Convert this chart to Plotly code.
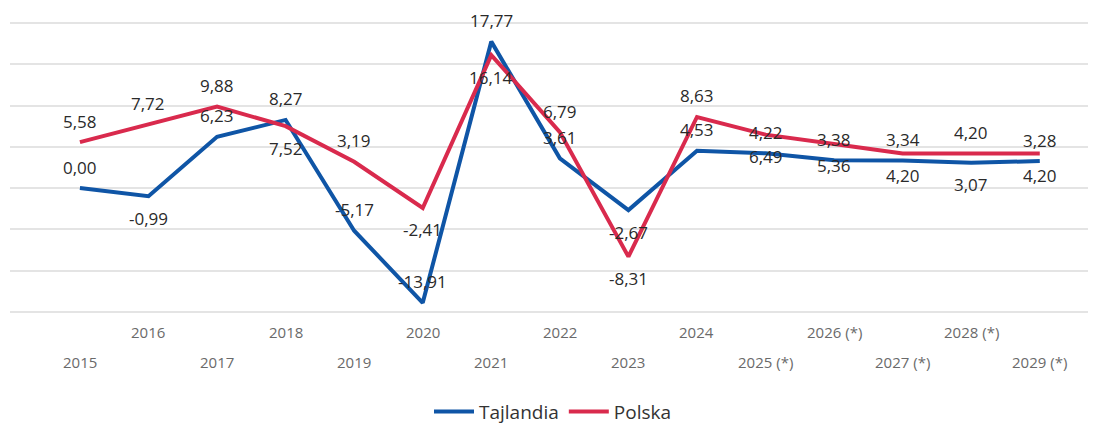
import plotly.graph_objects as go

years = ["2015", "2016", "2017", "2018", "2019", "2020", "2021", "2022",
         "2023", "2024", "2025 (*)", "2026 (*)", "2027 (*)", "2028 (*)", "2029 (*)"]
tajlandia = [0.00, -0.99, 6.23, 8.27, -5.17, -13.91, 17.77, 3.61,
             -2.67, 4.53, 4.22, 3.38, 3.34, 3.07, 3.28]
polska = [5.58, 7.72, 9.88, 7.52, 3.19, -2.41, 16.14, 6.79,
          -8.31, 8.63, 6.49, 5.36, 4.20, 4.20, 4.20]

# label placement: 1 = above the point, -1 = below
tajlandia_pos = [1, -1, 1, 1, 1, 1, 1, 1, -1, 1, 1, 1, 1, -1, 1]
polska_pos = [1, 1, 1, -1, 1, -1, -1, 1, -1, 1, -1, -1, -1, 1, -1]

BLUE = "#0f55a6"
RED = "#d92a4d"

idx = list(range(len(years)))

fig = go.Figure()
fig.add_trace(go.Scatter(x=idx, y=tajlandia, mode="lines", name="Tajlandia",
                         line=dict(color=BLUE, width=4), hoverinfo="skip"))
fig.add_trace(go.Scatter(x=idx, y=polska, mode="lines", name="Polska",
                         line=dict(color=RED, width=4), hoverinfo="skip"))

annotations = []
def fmt(v):
    return f"{v:.2f}".replace(".", ",")

for series, pos in ((tajlandia, tajlandia_pos), (polska, polska_pos)):
    for x, v, p in zip(idx, series, pos):
        annotations.append(dict(x=x, y=v, xref="x", yref="y", text=fmt(v),
                                showarrow=False, yanchor="middle",
                                yshift=21 if p > 0 else -22,
                                font=dict(family="Open Sans", size=17, color="#2a2a2a")))

for i, yr in zip(idx, years):
    annotations.append(dict(x=i, y=0, xref="x", yref="paper", text=yr,
                            showarrow=False, yanchor="middle",
                            yshift=-19 if i % 2 == 1 else -49,
                            font=dict(family="Open Sans", size=15, color="#6a6a6a")))

fig.update_layout(
    width=1088, height=423,
    margin=dict(l=2, r=0, t=14, b=111),
    paper_bgcolor="white", plot_bgcolor="white",
    showlegend=True,
    legend=dict(orientation="h", x=0.5, xanchor="center", y=-0.339, yanchor="middle",
                font=dict(family="Open Sans", size=19, color="#333333"),
                itemwidth=40),
    xaxis=dict(range=[-1.02, 14.82], showticklabels=False,
               showgrid=False, zeroline=False, showline=False, ticks=""),
    yaxis=dict(range=[-15.15, 20.15], dtick=5, tick0=0, showticklabels=False,
               showgrid=True, gridcolor="#e4e4e4", gridwidth=2,
               zeroline=False, showline=False),
    annotations=annotations,
)

fig.write_html("out.html")
